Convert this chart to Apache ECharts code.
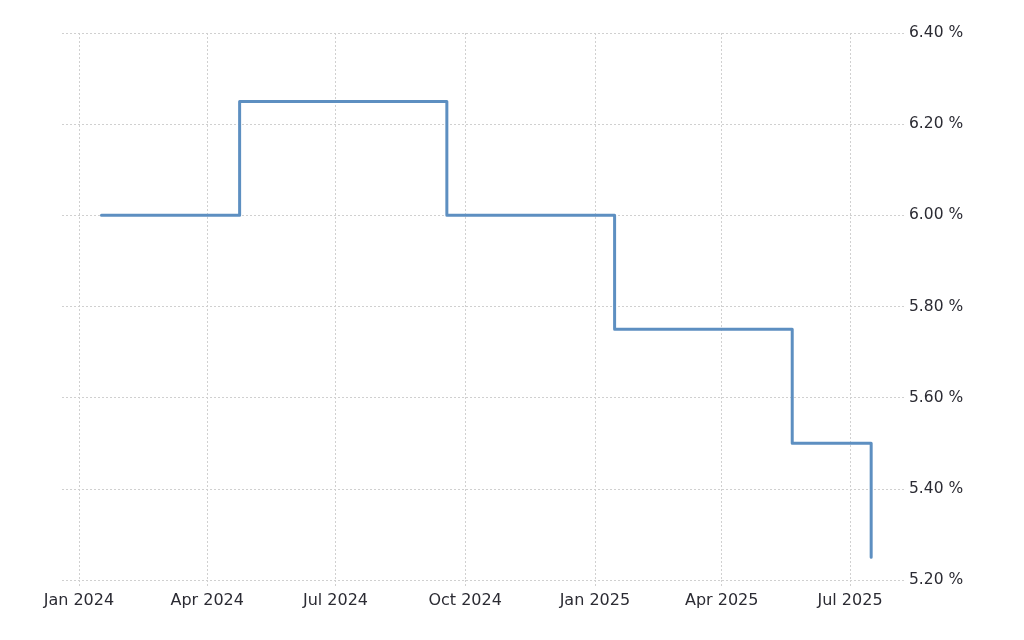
<!DOCTYPE html>
<html>
<head>
<meta charset="utf-8">
<script src="https://cdn.jsdelivr.net/npm/echarts@6/dist/echarts.min.js"></script>
<style>html,body{margin:0;padding:0;background:#fff}#c{width:1024px;height:640px}</style>
</head>
<body>
<div id="c"></div>
<script>
// Policy meeting dates and rate (%)
const dates = ['2024-01-17','2024-02-21','2024-03-20','2024-04-24','2024-05-22','2024-06-20','2024-07-17','2024-08-21','2024-09-18','2024-10-16','2024-11-20','2024-12-18','2025-01-15','2025-02-19','2025-03-19','2025-04-23','2025-05-21','2025-06-18','2025-07-16'];
const rates = [6.00,6.00,6.00,6.25,6.25,6.25,6.25,6.25,6.00,6.00,6.00,6.00,5.75,5.75,5.75,5.75,5.50,5.50,5.25];
const xRange = ['2023-12-20','2025-08-09'];
const yTicks = [5.2, 6.4, 0.2]; // min, max, interval
const monthNames = ['Jan','Feb','Mar','Apr','May','Jun','Jul','Aug','Sep','Oct','Nov','Dec'];

const chart = echarts.init(document.getElementById('c'));
const font = 'DejaVu Sans';
const gridLine = {show:true, lineStyle:{color:'#d0d0d0', type:[2,2], width:1}};
chart.setOption({
  animation:false,
  grid:{left:62, right:119, top:33, bottom:60, containLabel:false},
  xAxis:{
    type:'time',
    min:xRange[0], max:xRange[1],
    splitNumber:6,
    axisLine:{show:false},
    axisTick:{show:true, length:6, lineStyle:{color:'#d0d0d0', type:[2,2]}},
    splitLine:Object.assign({showMinLine:false, showMaxLine:false}, gridLine),
    axisLabel:{
      showMinLabel:false, showMaxLabel:false,
      color:'#2b2b33', fontFamily:font, fontSize:16, margin:13,
      formatter:function(v){const d=new Date(v);return monthNames[d.getMonth()]+' '+d.getFullYear();}
    }
  },
  yAxis:{
    type:'value', position:'right',
    min:yTicks[0], max:yTicks[1], interval:yTicks[2],
    axisLine:{show:false}, axisTick:{show:false},
    splitLine:gridLine,
    axisLabel:{color:'#2b2b33', fontFamily:font, fontSize:15.5, margin:4, padding:[3,0,0,0],
      formatter:function(v){return v.toFixed(2)+' %';}}
  },
  series:[{
    type:'line', step:'end', showSymbol:false,
    data:dates.map((d,i)=>[d, rates[i]]),
    lineStyle:{color:'#5d8fc1', width:3, cap:'round', join:'round'},
    itemStyle:{color:'#5d8fc1'}
  }]
});
</script>
</body>
</html>
